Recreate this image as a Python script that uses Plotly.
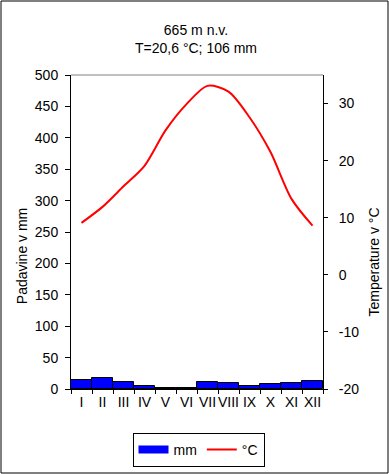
import plotly.graph_objects as go

months = ["I", "II", "III", "IV", "V", "VI", "VII", "VIII", "IX", "X", "XI", "XII"]
precip_mm = [14, 18, 11, 4, 2, 2, 11, 9, 5, 8, 9, 13]
temp_c = [9.1, 11.9, 15.5, 19.1, 25.3, 29.9, 33.1, 32.1, 27.6, 21.5, 13.3, 8.6]
left_ticks = list(range(0, 501, 50))
right_ticks = [-20, -10, 0, 10, 20, 30]
right_ticktext = [str(v) for v in right_ticks]

W, H = 389, 474
ML, MR, MT, MB = 71, 66, 75, 85
PW, PH = W - ML - MR, H - MT - MB

def px(x):
    return (x - ML) / PW

def py(y):
    return (H - MB - y) / PH

FONT = "Liberation Sans, Arial, sans-serif"

fig = go.Figure()
fig.add_trace(go.Bar(
    x=months, y=precip_mm, name="mm", showlegend=False,
    marker=dict(color="#0000FF", line=dict(color="black", width=1)),
    yaxis="y",
))
# legend-only entry drawn as a wide blue bar swatch
fig.add_trace(go.Scatter(
    x=[None], y=[None], name="mm", mode="lines",
    line=dict(color="#0000FF", width=8),
    yaxis="y",
))
fig.add_trace(go.Scatter(
    x=months, y=temp_c, name="°C", mode="lines",
    line=dict(color="#FF0000", width=2, shape="spline", smoothing=0.8),
    yaxis="y2",
))

fig.update_layout(
    width=W, height=H,
    margin=dict(l=ML, r=MR, t=MT, b=MB, pad=0, autoexpand=False),
    paper_bgcolor="white", plot_bgcolor="white",
    font=dict(family=FONT, size=14, color="black"),
    bargap=0,
    showlegend=True,
    title=dict(text="665 m n.v.<br>T=20,6 °C; 106 mm", x=196 / W, xref="container",
               y=1 - 35 / H, yref="container", xanchor="center", yanchor="middle",
               font=dict(family=FONT, size=14, color="black")),
    xaxis=dict(type="category", range=[-0.5, 11.5], showline=True, linecolor="black",
               linewidth=1, ticks="outside", ticklen=4, tickcolor="black",
               tickson="boundaries", showgrid=False, zeroline=False, tickangle=0,
               automargin=False, tickfont=dict(size=14)),
    yaxis=dict(range=[0, 500], tickvals=left_ticks, showline=True, linecolor="black",
               linewidth=1, ticks="outside", ticklen=5, tickcolor="black",
               showgrid=False, zeroline=False, tickfont=dict(size=14),
               automargin=False, ticklabelstandoff=4),
    yaxis2=dict(range=[-20, 35], tickvals=right_ticks, ticktext=right_ticktext,
                overlaying="y", side="right",
                showline=True, linecolor="black", linewidth=1, ticks="outside",
                ticklen=4, tickcolor="black", showgrid=False, zeroline=False,
                automargin=False, tickfont=dict(size=14), ticklabelstandoff=8),
    legend=dict(orientation="h", xref="container", yref="container",
                x=198.5 / W, y=1 - 450 / H, xanchor="center",
                yanchor="middle", bordercolor="black", borderwidth=1,
                font=dict(size=14), itemwidth=30, bgcolor="white",
                tracegroupgap=0),
    annotations=[
        dict(text="Padavine v mm", xref="paper", yref="paper", x=px(21.5), y=py(256.7),
             textangle=-90, showarrow=False, xanchor="center", yanchor="middle",
             font=dict(size=14)),
        dict(text="Temperature v °C", xref="paper", yref="paper", x=px(373), y=py(262.5),
             textangle=-90, showarrow=False, xanchor="center", yanchor="middle",
             font=dict(size=14)),
    ],
    shapes=[
        dict(type="line", xref="paper", yref="paper", x0=0, x1=1, y0=1, y1=1,
             line=dict(color="#808080", width=1)),
        dict(type="rect", xref="paper", yref="paper", x0=px(1), x1=px(W - 1),
             y0=py(H - 1), y1=py(1), line=dict(color="black", width=1),
             fillcolor="rgba(0,0,0,0)", layer="above"),
    ],
)

fig.write_html("out.html", config={"displayModeBar": False},
               post_script="document.body.style.margin='0';document.body.style.overflow='hidden';")
